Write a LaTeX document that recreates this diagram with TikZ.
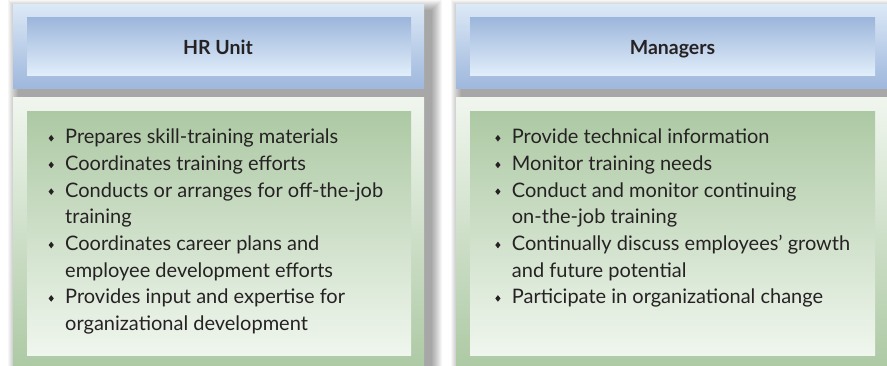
\documentclass[tikz,border=0pt]{standalone}
\usepackage{fontspec}
\setmainfont{Lato}
\definecolor{hbtop}{RGB}{219,232,246}
\definecolor{hbbot}{RGB}{158,183,220}
\definecolor{hitop}{RGB}{157,182,219}
\definecolor{hibot}{RGB}{226,239,251}
\definecolor{bbtop}{RGB}{240,246,238}
\definecolor{bbbot}{RGB}{173,201,164}
\definecolor{bitop}{RGB}{173,201,164}
\definecolor{bibot}{RGB}{240,246,238}
\definecolor{txt}{RGB}{38,34,36}
\newcommand\bul{\llap{\tikz[baseline=0pt,x=1pt,y=1pt]\fill[txt] (0,2.1) -- (2.6,5.4) -- (0,8.7) -- (-2.6,5.4) -- cycle;\hspace{11.4pt}}}
\tikzset{
 frame/.style={draw=none, inner sep=0pt, outer sep=0pt},
 hdrframe/.style={frame, top color=hbtop, bottom color=hbbot},
 hdrbox/.style={frame, top color=hitop, bottom color=hibot},
 bodyframe/.style={frame, top color=bbtop, bottom color=bbbot},
 bodybox/.style={frame, top color=bitop, bottom color=bibot},
 hdrtext/.style={inner sep=0pt, font=\fontsize{19.5}{24}\selectfont\bfseries, text=txt},
 listtext/.style={inner sep=0pt, align=left, font=\fontsize{20}{26.7}\selectfont, text=txt},
 shadowfill/.style={fill=black, opacity=0.035},
}
\begin{document}
\begin{tikzpicture}[x=1pt,y=-1pt]
\useasboundingbox (0,0) rectangle (887,366);
\fill[white] (0,0) rectangle (887,366);
% soft shadows
\foreach \i in {1,...,11} {
  \fill[shadowfill] (19-\i,11-\i) rectangle (431+\i,380);
  \fill[shadowfill] (462-\i,11-\i) rectangle (900,380);
}
% left column
\node[hdrframe, minimum width=411pt, minimum height=84pt] (hrframe) at (218.5,47) {};
\node[hdrbox, minimum width=384pt, minimum height=58pt] (hrbox) at (219,47) {};
\node[hdrtext, anchor=base] (hrtitle) at (218,55) {HR Unit};
\node[bodyframe, minimum width=411pt, minimum height=270pt] (hrbodyframe) at (218.5,233) {};
\node[bodybox, minimum width=384pt, minimum height=243pt] (hrbodybox) at (219,233.5) {};
\node[listtext, anchor=north west] (hrlist) at (65,128.7) {\bul Prepares skill-training materials\\
\bul Coordinates training efforts\\
\bul Conducts or arranges for off-the-job\\
training\\
\bul Coordinates career plans and\\
employee development efforts\\
\bul Provides input and expertise for\\
organizational development};
% right column
\node[hdrframe, minimum width=433pt, minimum height=84pt] (mgframe) at (672.5,47) {};
\node[hdrbox, minimum width=405pt, minimum height=58pt] (mgbox) at (672.5,47) {};
\node[hdrtext, anchor=base] (mgtitle) at (672.5,55) {Managers};
\node[bodyframe, minimum width=433pt, minimum height=270pt] (mgbodyframe) at (672.5,233) {};
\node[bodybox, minimum width=405pt, minimum height=243pt] (mgbodybox) at (672.5,233.5) {};
\node[listtext, anchor=north west] (mglist) at (511.7,128.7) {\bul Provide technical information\\
\bul Monitor training needs\\
\bul Conduct and monitor continuing\\
on-the-job training\\
\bul Continually discuss employees’ growth\\
and future potential\\
\bul Participate in organizational change};
\end{tikzpicture}
\end{document}
